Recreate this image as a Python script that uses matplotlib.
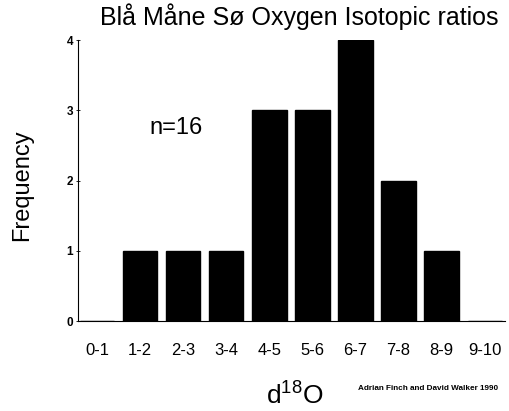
import matplotlib
matplotlib.use("Agg")
import matplotlib.pyplot as plt

categories = ["0-1", "1-2", "2-3", "3-4", "4-5", "5-6", "6-7", "7-8", "8-9", "9-10"]
frequency = [0, 1, 1, 1, 3, 3, 4, 2, 1, 0]
yticks = [0, 1, 2, 3, 4]

plt.rcParams['font.family'] = ['Liberation Sans', 'DejaVu Sans']

fig = plt.figure(figsize=(5.09, 4.11), dpi=100)
left, right = 78/509, 505/509
bottom, top = (411-321)/411, (411-40)/411
ax = fig.add_axes([left, bottom, right-left, top-bottom])

x = list(range(len(categories)))
ax.bar(x, frequency, width=0.8, color='black', edgecolor='black')
ax.set_xlim(-0.44, 9.47)
ax.set_ylim(0, 4)
ax.set_xticks(x)
ax.set_xticklabels(categories, fontsize=12)
ax.tick_params(axis='x', length=0, pad=16)
ax.set_yticks(yticks)
ax.set_yticklabels([str(t) for t in yticks], fontsize=8.5, fontweight='bold')
ax.tick_params(axis='y', length=3, width=0.6, direction='inout', pad=2)
for s in ['top', 'right']:
    ax.spines[s].set_visible(False)
ax.spines['left'].set_linewidth(0.8)
ax.spines['bottom'].set_linewidth(0.8)

fig.text(299/509, 1-17/411, "Blå Måne Sø Oxygen Isotopic ratios", ha='center', va='center', fontsize=18)
fig.text(22/509, 1-185/411, "Frequency", rotation=90, ha='center', va='center', fontsize=17)
fig.text(176/509, 1-128/411, "n=16", ha='center', va='center', fontsize=17)
fig.text(295/509, 1-395/411, r"d$^{\mathregular{18}}$O", ha='center', va='center', fontsize=19)
fig.text(428/509, 1-388/411, "Adrian Finch and David Walker 1990", ha='center', va='center',
         fontsize=5.9, fontweight='bold', family=['Liberation Sans Narrow', 'Liberation Sans'])

fig.savefig("out.png", dpi=100)
